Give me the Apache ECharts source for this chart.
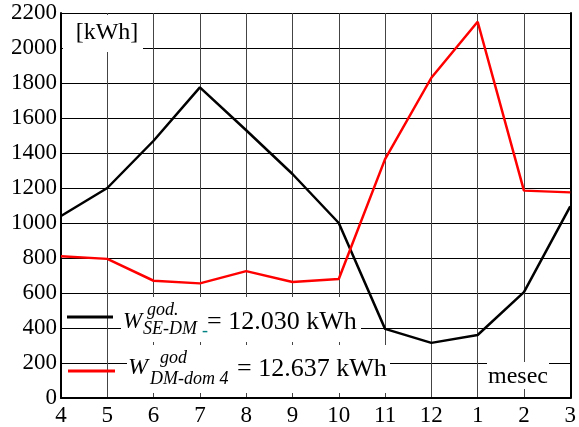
<!DOCTYPE html>
<html>
<head>
<meta charset="utf-8">
<script src="https://cdn.jsdelivr.net/npm/echarts@6/dist/echarts.min.js"></script>
<style>
html,body{margin:0;padding:0;background:#fff;}
#c{width:579px;height:427px;}
</style>
</head>
<body>
<div id="c"></div>
<script>
// Data
const months = ['4','5','6','7','8','9','10','11','12','1','2','3'];
const seDm = [1040, 1200, 1470, 1775, 1530, 1280, 1000, 395, 315, 360, 605, 1095];
const dmDom4 = [810, 795, 670, 655, 725, 663, 680, 1365, 1830, 2150, 1185, 1175];
const yMin = 0, yMax = 2200, yStep = 200;
const unitLabel = '[kWh]';
const xName = 'mesec';
const total1 = '= 12.030 kWh';
const total2 = '= 12.637 kWh';

const FONT = 'Liberation Serif';
const chart = echarts.init(document.getElementById('c'), null, {renderer: 'canvas'});

function txt(text, x, y, size, italic, opts) {
  return {
    type: 'text', z: 5,
    style: Object.assign({
      text: text, x: x, y: y,
      fontFamily: FONT, fontSize: size, fontStyle: italic ? 'italic' : 'normal',
      fill: '#000', textAlign: 'left', verticalAlign: 'middle'
    }, opts || {})
  };
}

chart.setOption({
  animation: false,
  backgroundColor: '#fff',
  grid: {left: 61, right: 6, top: 13, bottom: 28, containLabel: false},
  xAxis: {
    type: 'category', data: months, boundaryGap: false,
    axisLine: {show: true, lineStyle: {color: '#000', width: 2}},
    axisTick: {show: false},
    axisLabel: {color: '#000', fontFamily: FONT, fontSize: 23, margin: 6},
    splitLine: {show: true, lineStyle: {color: '#444', width: 1}}
  },
  yAxis: [{
    type: 'value', min: yMin, max: yMax, interval: yStep,
    axisLine: {show: true, lineStyle: {color: '#000', width: 2}},
    axisTick: {show: false},
    axisLabel: {color: '#000', fontFamily: FONT, fontSize: 23, margin: 4, formatter: v => String(v)},
    splitLine: {show: true, lineStyle: {color: '#000', width: 1}}
  }, {
    type: 'value', min: yMin, max: yMax, interval: yStep, position: 'right',
    axisLine: {show: true, lineStyle: {color: '#000', width: 2}},
    axisTick: {show: false}, axisLabel: {show: false}, splitLine: {show: false}
  }],
  series: [{
    name: 'SE-DM', type: 'line', data: seDm, symbol: 'none', z: 10,
    lineStyle: {color: '#000', width: 2.5}
  }, {
    name: 'DM-dom 4', type: 'line', data: dmDom4, symbol: 'none', z: 10,
    lineStyle: {color: '#ff0000', width: 2.5}
  }],
  graphic: [
    {type: 'rect', z: 1, shape: {x: 63, y: 15, width: 80, height: 37}, style: {fill: '#fff'}},
    txt(unitLabel, 107, 33, 24, false, {textAlign: 'center'}),
    {type: 'rect', z: 1, shape: {x: 487, y: 362, width: 62, height: 27}, style: {fill: '#fff'}},
    txt(xName, 518, 377, 24, false, {textAlign: 'center'}),
    {type: 'rect', z: 1, shape: {x: 121, y: 297, width: 240, height: 45}, style: {fill: '#fff'}},
    {type: 'line', z: 5, shape: {x1: 67, y1: 317, x2: 113, y2: 317}, style: {stroke: '#000', lineWidth: 3}},
    txt('W', 123, 322, 23, true),
    txt('god.', 147, 310, 18, true),
    txt('SE-DM', 143, 329, 18, true),
    txt('-', 202, 331, 18, false, {fill: '#008080'}),
    txt(total1, 207, 322, 26, false),
    {type: 'rect', z: 1, shape: {x: 127, y: 345, width: 263, height: 48}, style: {fill: '#fff'}},
    {type: 'line', z: 5, shape: {x1: 68, y1: 371, x2: 115, y2: 371}, style: {stroke: '#ff0000', lineWidth: 3}},
    txt('W', 128, 368, 24, true),
    txt('god', 160, 358, 18, true),
    txt('DM-dom 4', 150, 379, 18, true),
    txt(total2, 237, 369, 26, false)
  ]
});
</script>
</body>
</html>
